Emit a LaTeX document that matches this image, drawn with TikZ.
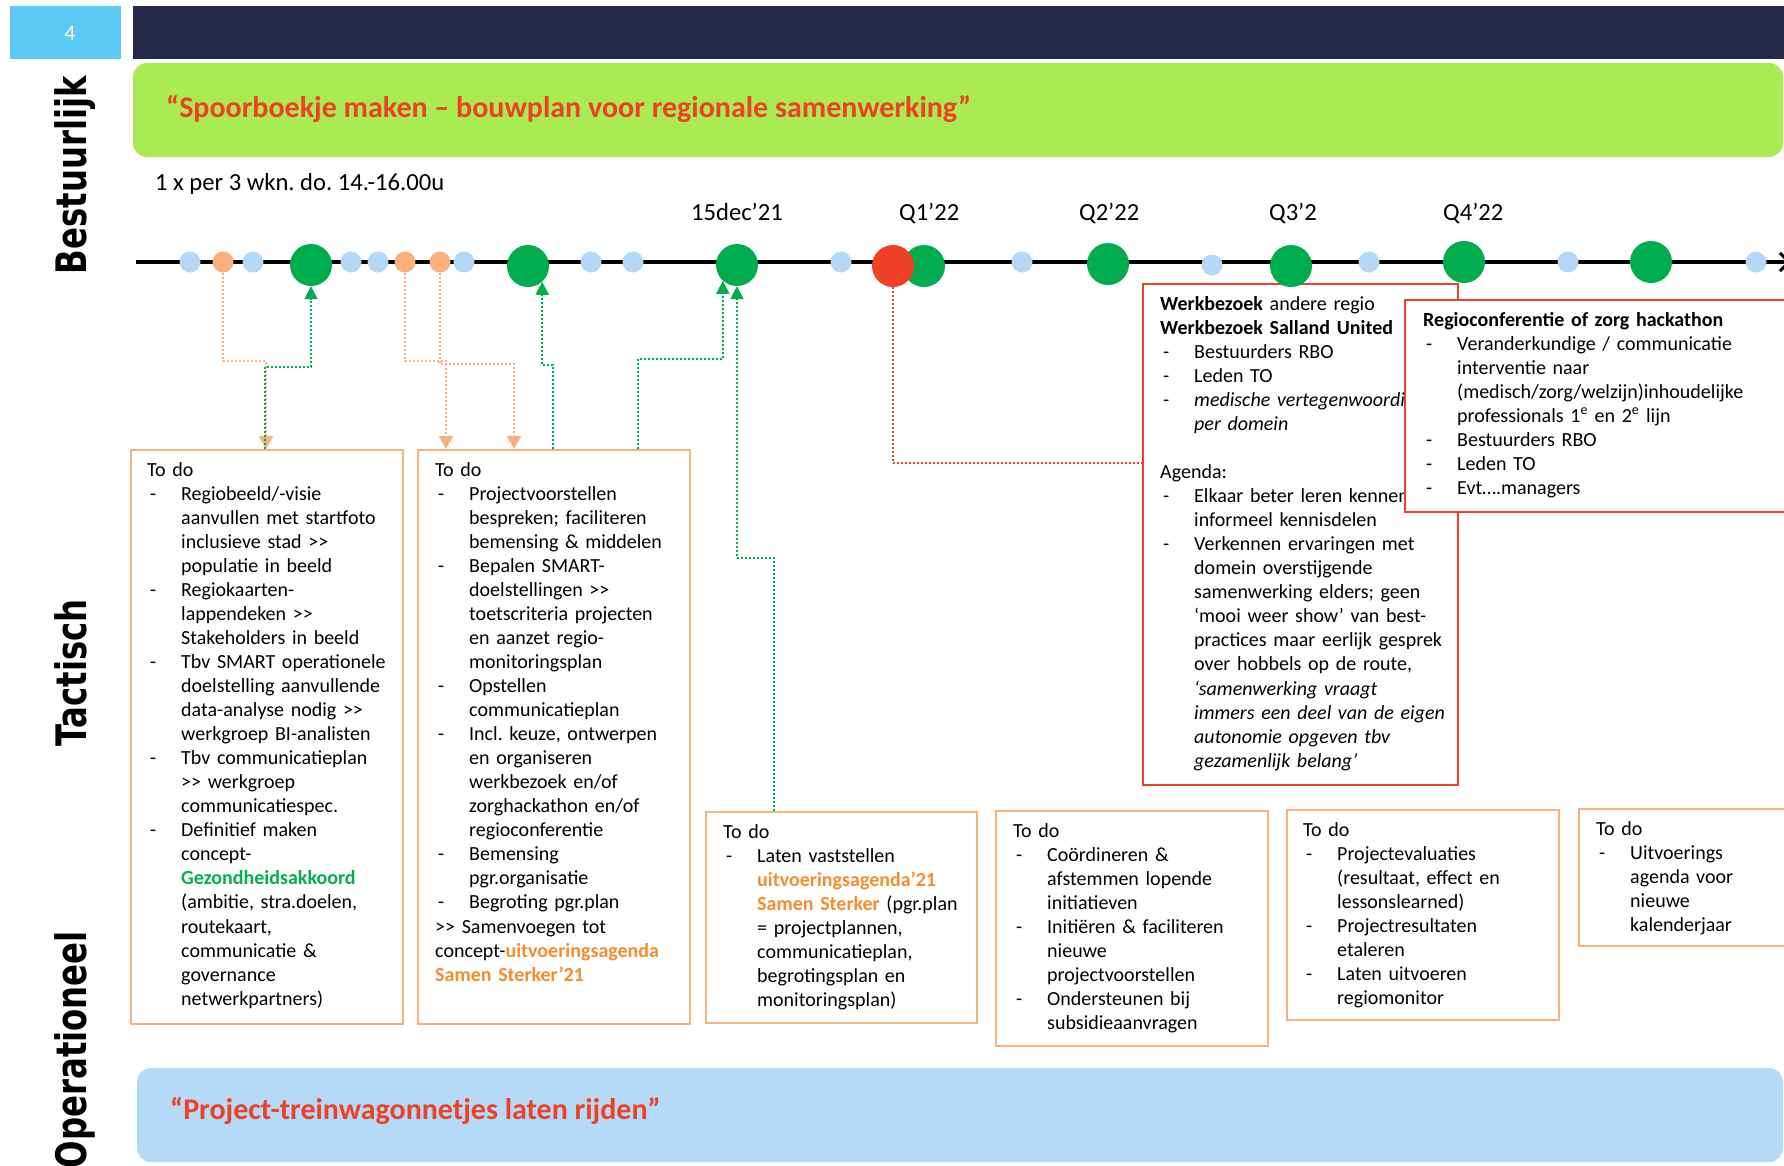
\documentclass[tikz,border=0pt]{standalone}
\usepackage{fontspec}
\setmainfont{Carlito}
\newfontfamily\lanefont{DejaVu Sans}[FakeStretch=0.77]
\usetikzlibrary{arrows.meta,calc}

\definecolor{navy}{RGB}{37,40,71}
\definecolor{tabblue}{RGB}{92,201,245}
\definecolor{limeband}{RGB}{170,235,84}
\definecolor{skyband}{RGB}{180,218,247}
\definecolor{titlered}{RGB}{238,65,35}
\definecolor{dotblue}{RGB}{180,216,245}
\definecolor{dotorange}{RGB}{250,176,122}
\definecolor{dotgreen}{RGB}{0,173,78}
\definecolor{dotred}{RGB}{238,65,38}
\definecolor{boxorange}{RGB}{248,176,126}
\definecolor{boxred}{RGB}{236,66,44}
\definecolor{hlgreen}{RGB}{0,176,80}
\definecolor{hlorange}{RGB}{246,140,45}

% list helpers for the to-do boxes
\newcommand\lnbr{\newline}
\newcommand\dashitem{\par\hangindent=34pt\hangafter=1\noindent\hbox to 34pt{\hspace{3pt}-\hfil}}
\newcommand\ggt{>\kern0pt>}
\newcommand\hlo[1]{\textcolor{hlorange}{\textbf{#1}}}

\begin{document}
\frenchspacing
\begin{tikzpicture}[x=1pt,y=-1pt,
  lane/.style={font={\lanefont\bfseries\fontsize{42}{50}\selectfont}, rotate=90, anchor=base east, inner sep=0},
  milestone/.style={font={\fontsize{24.6}{29}\selectfont}, anchor=base west, inner sep=0},
  banner/.style={font={\bfseries\fontsize{30}{35}\selectfont}, text=titlered, anchor=base west, inner sep=0},
  smalldot/.style={circle, minimum size=21pt, inner sep=0, fill=#1},
  bigdot/.style={circle, minimum size=42pt, inner sep=0, fill=#1},
  todobox/.style={draw=boxorange, line width=2pt, anchor=north west, inner sep=0},
  visitbox/.style={draw=boxred, fill=white, line width=2pt, anchor=north west, inner sep=0},
  boxtext/.style={anchor=north west, inner sep=0, text width=380pt, font={\fontsize{20}{24.05}\selectfont}},
  link/.style={line width=2pt, dash pattern=on 2pt off 2pt},
  uplink/.style={link, draw=dotgreen, -{Triangle[length=13pt,width=13pt]}},
  downlink/.style={link, draw=boxorange, -{Triangle[length=13pt,width=14pt]}},
  redlink/.style={link, draw=dotred},
]
\useasboundingbox (0,0) rectangle (1784,1165);

% header strip
\fill[tabblue] (10,6) rectangle (121,59);
\node[font={\fontsize{22}{26}\selectfont}, text=white, anchor=base, inner sep=0] (pagenum) at (70,40) {4};
\fill[navy] (133,6) rectangle (1800,59);

% strategic band
\fill[limeband, rounded corners=14pt] (133,63) rectangle (1783,157);
\node[banner] (spoor) at (166,117) {“Spoorboekje maken – bouwplan voor regionale samenwerking”};

% operational band
\fill[skyband, rounded corners=14pt] (137,1068) rectangle (1783,1162);
\node[banner] (wagon) at (170,1119) {“Project-treinwagonnetjes laten rijden”};

% lane names
\node[lane] (lbest) at (86,76) {Bestuurlijk};
\node[lane] (ltact) at (86,599) {Tactisch};
\node[lane] (loper) at (86,931) {Operationeel};

% timeline labels
\node[milestone] (freq) at (155,190) {1 x per 3 wkn. do. 14.-16.00u};
\node[milestone] (m15) at (691,220) {15dec’21};
\node[milestone] (mq1) at (899,220) {Q1’22};
\node[milestone] (mq2) at (1079,220) {Q2’22};
\node[milestone] (mq3) at (1269,220) {Q3’2};
\node[milestone] (mq4) at (1443,220) {Q4’22};

% to-do boxes
\node[todobox, minimum width=272pt, minimum height=574pt] (td1) at (130,449) {};
\node[boxtext] (td1t) at ($(td1.north west)+(17,13)$) {%
\noindent To do
\dashitem Regiobeeld/-visie\lnbr aanvullen met startfoto\lnbr inclusieve stad \ggt\lnbr populatie in beeld
\dashitem Regiokaarten-\lnbr lappendeken \ggt\lnbr Stakeholders in beeld
\dashitem Tbv SMART operationele\lnbr doelstelling aanvullende\lnbr data-analyse nodig \ggt\lnbr werkgroep BI-analisten
\dashitem Tbv communicatieplan\lnbr \ggt{} werkgroep\lnbr communicatiespec.
\dashitem Definitief maken\lnbr concept-\lnbr \textcolor{hlgreen}{\textbf{Gezondheidsakkoord}}\lnbr (ambitie, stra.doelen,\lnbr routekaart,\lnbr communicatie \&\lnbr governance\lnbr netwerkpartners)\par};

\node[todobox, minimum width=272pt, minimum height=574pt] (td2) at (417,449) {};
\node[boxtext] (td2t) at ($(td2.north west)+(18,13)$) {%
\noindent To do
\dashitem Projectvoorstellen\lnbr bespreken; faciliteren\lnbr bemensing \& middelen
\dashitem Bepalen SMART-\lnbr doelstellingen \ggt\lnbr toetscriteria projecten\lnbr en aanzet regio-\lnbr monitoringsplan
\dashitem Opstellen\lnbr communicatieplan
\dashitem Incl. keuze, ontwerpen\lnbr en organiseren\lnbr werkbezoek en/of\lnbr zorghackathon en/of\lnbr regioconferentie
\dashitem Bemensing\lnbr pgr.organisatie
\dashitem Begroting pgr.plan
\par\noindent\ggt{} Samenvoegen tot\lnbr concept-\hlo{uitvoeringsagenda}\lnbr \hlo{Samen Sterker’21}\par};

\node[todobox, minimum width=271pt, minimum height=211pt] (td3) at (705,811) {};
\node[boxtext] (td3t) at ($(td3.north west)+(18,13)$) {%
\noindent To do
\dashitem Laten vaststellen\lnbr \hlo{uitvoeringsagenda’21}\lnbr \hlo{Samen Sterker} (pgr.plan\lnbr = projectplannen,\lnbr communicatieplan,\lnbr begrotingsplan en\lnbr monitoringsplan)\par};

\node[todobox, minimum width=272pt, minimum height=235pt] (td4) at (995,810) {};
\node[boxtext] (td4t) at ($(td4.north west)+(18,13)$) {%
\noindent To do
\dashitem Coördineren \&\lnbr afstemmen lopende\lnbr initiatieven
\dashitem Initiëren \& faciliteren\lnbr nieuwe\lnbr projectvoorstellen
\dashitem Ondersteunen bij\lnbr subsidieaanvragen\par};

\node[todobox, minimum width=272pt, minimum height=210pt] (td5) at (1286,809) {};
\node[boxtext] (td5t) at ($(td5.north west)+(17,13)$) {%
\noindent To do
\dashitem Projectevaluaties\lnbr (resultaat, effect en\lnbr lessonslearned)
\dashitem Projectresultaten\lnbr etaleren
\dashitem Laten uitvoeren\lnbr regiomonitor\par};

\node[todobox, minimum width=272pt, minimum height=137pt] (td6) at (1578,808) {};
\node[boxtext] (td6t) at ($(td6.north west)+(18,13)$) {%
\noindent To do
\dashitem Uitvoerings\lnbr agenda voor\lnbr nieuwe\lnbr kalenderjaar\par};

% work visit and conference boxes
\node[visitbox, minimum width=315pt, minimum height=501pt] (wb) at (1142,283) {};
\node[boxtext] (wbt) at ($(wb.north west)+(18,13)$) {%
\noindent\textbf{Werkbezoek} andere regio\lnbr \textbf{Werkbezoek Salland United}
\dashitem Bestuurders RBO
\dashitem Leden TO
\dashitem \textit{medische vertegenwoordiging}\lnbr \textit{per domein}
\par\noindent\mbox{}
\par\noindent Agenda:
\dashitem Elkaar beter leren kennen\lnbr informeel kennisdelen
\dashitem Verkennen ervaringen met\lnbr domein overstijgende\lnbr samenwerking elders; geen\lnbr ‘mooi weer show’ van best-\lnbr practices maar eerlijk gesprek\lnbr over hobbels op de route,\lnbr \textit{‘samenwerking vraagt}\lnbr \textit{immers een deel van de eigen}\lnbr \textit{autonomie opgeven tbv}\lnbr \textit{gezamenlijk belang’}\par};

\node[visitbox, minimum width=446pt, minimum height=212pt] (rc) at (1404,299) {};
\node[boxtext] (rct) at ($(rc.north west)+(19,13)$) {%
\noindent\textbf{Regioconferentie of zorg hackathon}
\dashitem Veranderkundige / communicatie\lnbr interventie naar\lnbr (medisch/zorg/welzijn)inhoudelijke\lnbr professionals 1\textsuperscript{e} en 2\textsuperscript{e} lijn
\dashitem Bestuurders RBO
\dashitem Leden TO
\dashitem Evt….managers\par};

% timeline
\coordinate (tstart) at (136,262);
\coordinate (tend) at (1791,262);
\draw[line width=4pt, -{Straight Barb[length=9pt,width=18pt,line width=3pt]}] (tstart) -- (tend);

% meetings on the timeline
\node[smalldot=dotblue] (b1) at (190,262) {};
\node[smalldot=dotorange] (o1) at (223,262) {};
\node[smalldot=dotblue] (b2) at (253,262) {};
\node[bigdot=dotgreen] (g1) at (311,265) {};
\node[smalldot=dotblue] (b3) at (351,262) {};
\node[smalldot=dotblue] (b4) at (378,262) {};
\node[smalldot=dotorange] (o2) at (405,262) {};
\node[smalldot=dotorange] (o3) at (440,262) {};
\node[smalldot=dotblue] (b5) at (464,262) {};
\node[bigdot=dotgreen] (g2) at (528,266) {};
\node[smalldot=dotblue] (b6) at (591,262) {};
\node[smalldot=dotblue] (b7) at (633,262) {};
\node[bigdot=dotgreen] (g3) at (737,265) {};
\node[smalldot=dotblue] (b8) at (841,262) {};
\node[bigdot=dotgreen] (g4) at (924,266) {};
\node[bigdot=dotred] (r1) at (893,266) {};
\node[smalldot=dotblue] (b9) at (1022,262) {};
\node[bigdot=dotgreen] (g5) at (1108,264) {};
\node[smalldot=dotblue] (b10) at (1212,265) {};
\node[bigdot=dotgreen] (g6) at (1291,266) {};
\node[smalldot=dotblue] (b11) at (1369,262) {};
\node[bigdot=dotgreen] (g7) at (1464,262) {};
\node[smalldot=dotblue] (b12) at (1568,262) {};
\node[bigdot=dotgreen] (g8) at (1651,262) {};
\node[smalldot=dotblue] (b13) at (1756,262) {};

% preparation meetings feeding the to-do boxes
\draw[downlink] (o1.south) |- (266,361) -- (266,0 |- td1.north);
\draw[downlink] (o2.south) |- (446,361) -- (446,0 |- td2.north);
\draw[downlink] (o3.south) |- (514,364) -- (514,0 |- td2.north);

% to-do results going back to the board meetings
\draw[uplink] (265,0 |- td1.north) |- (311,367) -- (g1.south);
\draw[uplink] (553,0 |- td2.north) |- (542,365) -- (g2.-48);
\draw[uplink] (638,0 |- td2.north) |- (723,359) -- (g3.-132);
\draw[uplink] (774,0 |- td3.north) |- (737,558) -- (g3.south);

% work visit link
\draw[redlink] (r1.south) |- (wb.west |- 0,463);
\end{tikzpicture}
\end{document}
